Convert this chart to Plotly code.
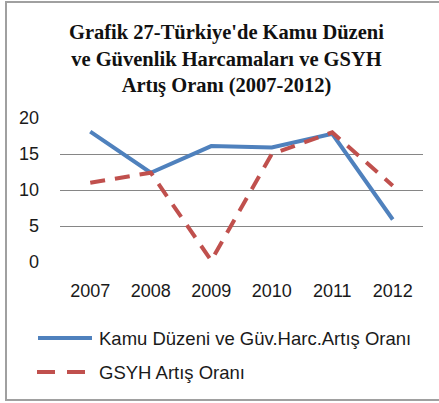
import plotly.graph_objects as go

years = ["2007", "2008", "2009", "2010", "2011", "2012"]
kamu = [18.1, 12.4, 16.1, 15.9, 17.8, 5.9]
gsyh = [11.0, 12.4, 0.2, 15.0, 18.0, 10.6]
series_names = ["Kamu Düzeni ve Güv.Harc.Artış Oranı", "GSYH Artış Oranı"]
y_ticks = [0, 5, 10, 15, 20]
title_text = "Grafik 27-Türkiye'de Kamu Düzeni<br>ve Güvenlik Harcamaları ve GSYH<br>Artış Oranı (2007-2012)"

W, H = 439, 403
L, R, T, B = 60, 423, 118, 262  # plot area in pixels

def px(x):
    return (x - L) / (R - L)

def py(y):
    return (B - y) / (B - T)

BLUE = "#4F81BD"
RED = "#C0504D"
SANS = "Liberation Sans, Arial"

fig = go.Figure()
fig.add_trace(go.Scatter(x=years, y=kamu, mode="lines", name=series_names[0],
                         line=dict(color=BLUE, width=4), showlegend=False))
fig.add_trace(go.Scatter(x=years, y=gsyh, mode="lines", name=series_names[1],
                         line=dict(color=RED, width=4, dash="15px,10px"), showlegend=False))

shapes = [
    # outer border
    dict(type="rect", xref="paper", yref="paper", x0=px(6), x1=px(441), y0=py(400), y1=py(2),
         line=dict(color="#A0A0A0", width=2), fillcolor="rgba(0,0,0,0)", layer="below"),
    # legend symbols
    dict(type="line", xref="paper", yref="paper", x0=px(38), x1=px(92), y0=py(338), y1=py(338),
         line=dict(color=BLUE, width=4)),
    dict(type="line", xref="paper", yref="paper", x0=px(37), x1=px(92), y0=py(372), y1=py(372),
         line=dict(color=RED, width=4, dash="18px,12px")),
]
annotations = [
    dict(text="<b>" + title_text + "</b>", xref="paper", yref="paper", x=px(226), y=py(19),
         xanchor="center", yanchor="top", showarrow=False, align="center",
         font=dict(family="Liberation Serif, Times New Roman", size=20.5, color="#111")),
    dict(text=series_names[0], xref="paper", yref="paper", x=px(97), y=py(338),
         xanchor="left", yanchor="middle", showarrow=False,
         font=dict(family=SANS, size=18.5, color="#1a1a1a")),
    dict(text=series_names[1], xref="paper", yref="paper", x=px(97), y=py(372),
         xanchor="left", yanchor="middle", showarrow=False,
         font=dict(family=SANS, size=18.5, color="#1a1a1a")),
]

fig.update_layout(
    width=W, height=H,
    margin=dict(l=L, r=W - R, t=T, b=H - B),
    paper_bgcolor="white", plot_bgcolor="white",
    shapes=shapes,
    annotations=annotations,
    xaxis=dict(type="category", range=[-0.5, 5.5], showgrid=False, zeroline=False, showline=False,
               ticks="", ticklabelstandoff=16,
               tickfont=dict(family=SANS, size=18, color="#1a1a1a")),
    yaxis=dict(range=[0, 20], tickvals=y_ticks, showgrid=True, gridcolor="#868686", gridwidth=1,
               zeroline=False, showline=False, ticks="", ticklabelstandoff=20,
               tickfont=dict(family=SANS, size=18, color="#1a1a1a")),
)

fig.write_html("out.html", config={"displayModeBar": False},
               post_script="document.body.style.margin='0';document.body.style.overflow='hidden';")
